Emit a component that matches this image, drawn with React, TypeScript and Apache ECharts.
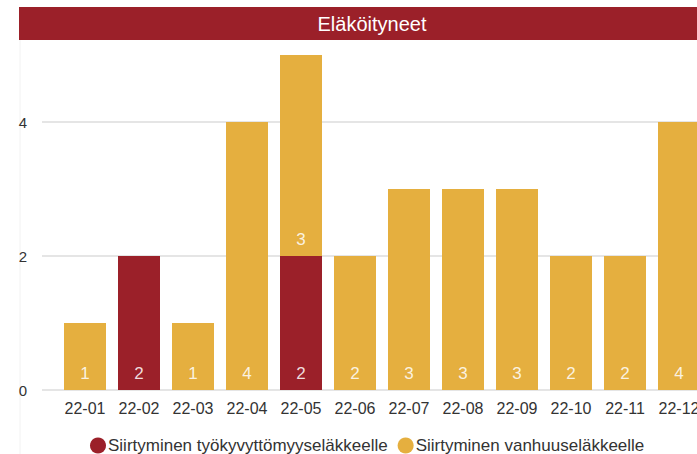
import React, { useEffect, useRef } from "react";
import * as echarts from "echarts";

const categories = ["22-01", "22-02", "22-03", "22-04", "22-05", "22-06", "22-07", "22-08", "22-09", "22-10", "22-11", "22-12"];
const disabilityPension = [0, 2, 0, 0, 2, 0, 0, 0, 0, 0, 0, 0];
const oldAgePension = [1, 0, 1, 4, 3, 2, 3, 3, 3, 2, 2, 4];
const seriesNames = ["Siirtyminen työkyvyttömyyseläkkeelle", "Siirtyminen vanhuuseläkkeelle"];
const titleText = "Eläköityneet";

const RED = "#9b2029";
const GOLD = "#e5af3f";
const FONT = "Arial, 'Liberation Sans', sans-serif";

export default function App() {
  const ref = useRef<HTMLDivElement>(null);
  useEffect(() => {
    if (!ref.current) return;
    const chart = echarts.init(ref.current, undefined, { renderer: "svg" });
    const label = {
      show: true,
      position: "insideBottom",
      distance: 8,
      color: "rgba(255,255,255,0.85)",
      fontSize: 17,
      fontFamily: FONT,
      formatter: (p: any) => (p.value ? String(p.value) : ""),
    };
    chart.setOption({
      animation: false,
      textStyle: { fontFamily: FONT },
      graphic: [
        { type: "rect", left: 19, top: 7, shape: { width: 702, height: 33 }, style: { fill: RED } },
        { type: "line", shape: { x1: 20, y1: 40, x2: 20, y2: 454 }, style: { stroke: "#f2f2f2", lineWidth: 1 } },
        {
          type: "text",
          x: 372,
          y: 23.5,
          style: { text: titleText, fill: "#fff", fontSize: 20, fontFamily: FONT, align: "center", verticalAlign: "middle" },
        },
      ],
      legend: {
        top: 432,
        left: 85,
        icon: "circle",
        itemWidth: 16,
        itemHeight: 16,
        itemGap: 10,
        textStyle: { fontSize: 17, color: "#333", fontFamily: FONT, padding: [0, 0, 0, -3] },
        data: seriesNames,
      },
      grid: [
        { left: 58, right: 34, top: 55, bottom: 64 },
        { left: 42, right: 34, top: 122, bottom: 64 },
      ],
      xAxis: [
        {
          type: "category",
          gridIndex: 0,
          data: categories,
          axisLine: { show: false },
          axisTick: { show: false },
          axisLabel: { color: "#333", fontSize: 16, margin: 10, fontFamily: FONT },
        },
        { type: "value", gridIndex: 1, min: 0, max: 1, show: false },
      ],
      yAxis: [
        { type: "value", gridIndex: 0, min: 0, max: 5, show: false, splitLine: { show: false } },
        {
          type: "value",
          gridIndex: 1,
          min: 0,
          max: 4,
          interval: 2,
          axisLine: { show: false },
          axisTick: { show: false },
          axisLabel: { color: "#333", fontSize: 15, margin: 15, fontFamily: FONT },
          splitLine: { lineStyle: { color: "#dcdcdc", width: 1.5 } },
        },
      ],
      series: [
        {
          name: seriesNames[0],
          type: "bar",
          stack: "total",
          xAxisIndex: 0,
          yAxisIndex: 0,
          barWidth: 42,
          data: disabilityPension,
          itemStyle: { color: RED },
          label,
        },
        {
          name: seriesNames[1],
          type: "bar",
          stack: "total",
          xAxisIndex: 0,
          yAxisIndex: 0,
          barWidth: 42,
          data: oldAgePension,
          itemStyle: { color: GOLD },
          label,
        },
      ],
    });
    return () => chart.dispose();
  }, []);
  return (
    <div style={{ position: "fixed", left: 0, top: 0, width: 697, height: 454, overflow: "hidden", background: "#fff" }}>
      <div ref={ref} style={{ width: 740, height: 454 }} />
    </div>
  );
}
